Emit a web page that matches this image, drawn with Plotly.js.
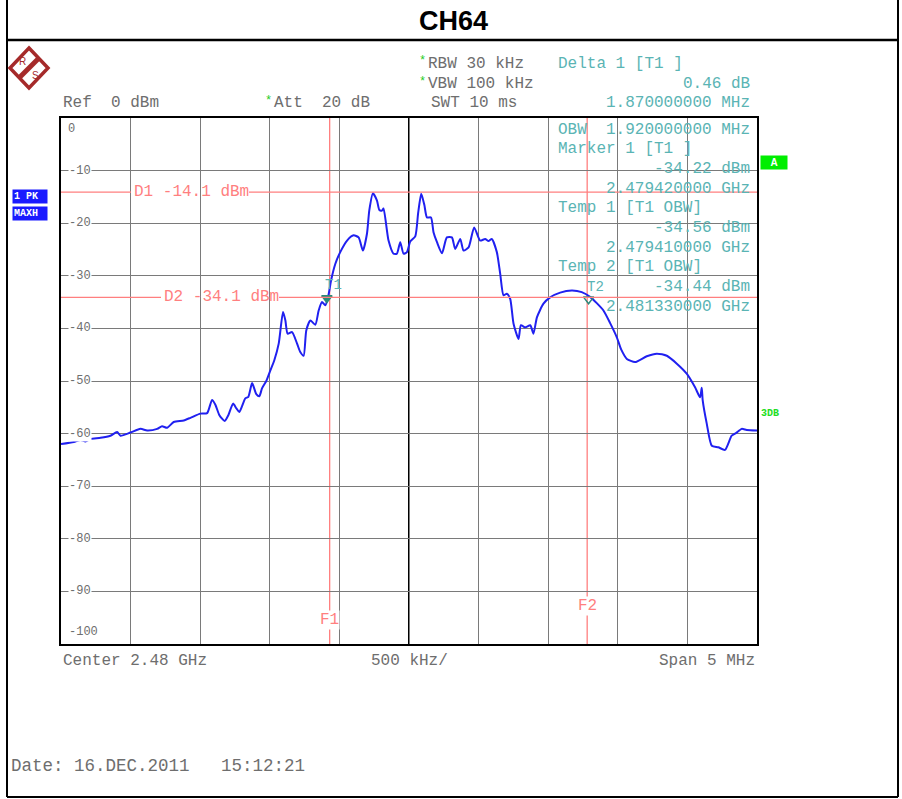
<!DOCTYPE html>
<html>
<head>
<meta charset="utf-8">
<script src="https://cdn.plot.ly/plotly-3.0.1.min.js"></script>
<style>
html,body{margin:0;padding:0;background:#fff;}
#chart{width:902px;height:799px;}
</style>
</head>
<body>
<div id="chart"></div>
<script>
// ---------- data ----------
const freqGHz = [
2.477500,2.477592,2.477640,2.477676,2.477712,2.477784,2.477855,2.477903,2.477927,2.477999,
2.478071,2.478119,2.478191,2.478226,2.478262,2.478310,2.478382,2.478430,2.478501,2.478550,
2.478585,2.478609,2.478638,2.478676,2.478702,2.478736,2.478760,2.478781,2.478824,2.478846,
2.478873,2.478903,2.478925,2.478944,2.478975,2.479004,2.479033,2.479064,2.479095,2.479112,
2.479128,2.479160,2.479196,2.479219,2.479243,2.479262,2.479291,2.479327,2.479351,2.479375,
2.479399,2.479422,2.479440,2.479471,2.479506,2.479555,2.479602,2.479638,2.479669,2.479698,
2.479715,2.479741,2.479770,2.479787,2.479806,2.479817,2.479853,2.479889,2.479913,2.479937,
2.479961,2.479985,2.480009,2.480045,2.480066,2.480088,2.480110,2.480129,2.480158,2.480176,
2.480201,2.480237,2.480272,2.480308,2.480332,2.480368,2.480392,2.480428,2.480468,2.480511,
2.480547,2.480571,2.480595,2.480631,2.480655,2.480679,2.480703,2.480727,2.480751,2.480787,
2.480804,2.480835,2.480871,2.480894,2.480919,2.480966,2.481014,2.481086,2.481170,2.481241,
2.481301,2.481349,2.481397,2.481445,2.481493,2.481524,2.481565,2.481624,2.481708,2.481780,
2.481852,2.481924,2.481995,2.482055,2.482091,2.482103,2.482110,2.482139,2.482175,2.482222,
2.482270,2.482318,2.482349,2.482390,2.482426,2.482500];
const levelDbm = [
-62.0,-61.6,-61.2,-61.5,-61.0,-60.8,-60.4,-59.7,-60.4,-59.8,
-59.1,-59.4,-59.1,-58.6,-58.9,-57.8,-57.5,-57.0,-56.2,-56.1,
-53.6,-54.5,-56.5,-57.6,-56.5,-54.3,-55.2,-55.9,-53.3,-53.0,
-50.4,-52.5,-52.9,-51.4,-50.0,-48.0,-46.0,-42.9,-36.9,-38.5,
-41.0,-40.7,-42.9,-44.5,-45.2,-40.4,-38.5,-39.3,-36.6,-35.0,
-35.6,-33.6,-30.9,-27.7,-25.5,-23.3,-22.3,-22.7,-25.2,-22.0,
-17.5,-14.3,-15.7,-17.5,-17.6,-17.2,-23.3,-25.8,-25.8,-23.6,
-25.8,-25.5,-23.5,-22.5,-18.0,-14.4,-16.5,-18.9,-18.9,-21.7,
-23.6,-25.7,-22.7,-22.7,-24.9,-23.0,-25.2,-24.6,-20.8,-23.3,
-23.0,-23.4,-23.0,-25.5,-29.6,-33.7,-33.4,-34.4,-39.1,-42.0,
-39.4,-39.8,-39.4,-41.0,-37.9,-35.3,-34.1,-33.2,-32.8,-33.1,
-34.0,-35.2,-36.6,-39.0,-41.7,-44.0,-45.8,-46.4,-45.3,-44.8,
-45.2,-46.7,-48.6,-51.2,-53.1,-51.3,-53.7,-58.1,-62.3,-62.6,
-63.1,-60.4,-59.9,-59.1,-59.3,-59.4];

const yTickValues = [0,-10,-20,-30,-40,-50,-60,-70,-80,-90,-100];
const yTickLabels = ["0","-10","-20","-30","-40","-50","-60","-70","-80","-90","-100"];
const displayLines = {D1:-14.1, D2:-34.1};
const freqLines = {F1:2.47943, F2:2.48128};
const markerNames = ["T1","T2"];
const markerFreq = [2.47941, 2.48129];
const markerLevel = [-34.22, -34.44];

const headerLeft = ["Ref  0 dBm", "Att  20 dB"];
const settingsText = ["RBW 30 kHz", "VBW 100 kHz", "SWT 10 ms"];
const deltaText = ["Delta 1 [T1 ]", "0.46 dB", "1.870000000 MHz"];
const markerInfo = [
  ["OBW  1.920000000 MHz","left"],
  ["Marker 1 [T1 ]","left"],
  ["-34.22 dBm","right"],
  ["2.479420000 GHz","right"],
  ["Temp 1 [T1 OBW]","left"],
  ["-34.56 dBm","right"],
  ["2.479410000 GHz","right"],
  ["Temp 2 [T1 OBW]","left"],
  ["-34.44 dBm","right"],
  ["2.481330000 GHz","right"]
];
const footerText = ["Center 2.48 GHz","500 kHz/","Span 5 MHz"];
const dateText = "Date: 16.DEC.2011   15:12:21";

// ---------- layout helpers ----------
const W = 902, H = 799;
const PL = 61, PR = 757, PT = 118, PB = 644;
const px = x => x / W;
const py = y => 1 - y / H;
const X0 = 2.4775, X1 = 2.4825;
const pixX = p => X0 + (p - PL) / (PR - PL) * (X1 - X0);

const MONO = "Liberation Mono, Courier New, monospace";
const GRAY = "#6e6e6e";
const TEAL = "#5ab4b4";
const RED = "#ff7f7f";
const FS = 16;

const annotations = [];
const shapes = [];
function txt(x, y, text, opt) {
  opt = opt || {};
  annotations.push(Object.assign({
    xref:'paper', yref:'paper', x:px(x), y:py(y), text:text, showarrow:false,
    xanchor:'left', yanchor:'middle', yshift:-1.5,
    font:{family:MONO, size:FS, color:GRAY}, borderpad:0
  }, opt));
}
function line(x0,y0,x1,y1,color,width){
  shapes.push({type:'line', xref:'paper', yref:'paper', x0:px(x0), y0:py(y0), x1:px(x1), y1:py(y1),
    line:{color:color, width:width}});
}

// frame
line(7,0,7,797,'#000',2);
line(898,0,898,797,'#000',2);
line(7,797,898,797,'#000',2);
line(7,40,898,40,'#000',2.5);
txt(453, 20, "<b>CH64</b>", {xanchor:'center', yshift:-1, font:{family:"Liberation Sans, Arial, sans-serif", size:27, color:'#000'}});

// logo
shapes.push({type:'path', xref:'paper', yref:'paper',
  path:`M ${px(29)} ${py(48)} L ${px(48)} ${py(68)} L ${px(29)} ${py(88)} L ${px(10)} ${py(68)} Z`,
  line:{color:'#a52a2a', width:3.5}, fillcolor:'rgba(0,0,0,0)'});
shapes.push({type:'line', xref:'paper', yref:'paper', x0:px(19), y0:py(78), x1:px(39), y1:py(58),
  line:{color:'#a52a2a', width:5}});
txt(22, 61, "R", {xanchor:'center', yshift:0, font:{family:"Liberation Sans, Arial", size:10, color:'#a52a2a'}});
txt(35, 75, "S", {xanchor:'center', yshift:0, font:{family:"Liberation Sans, Arial", size:10, color:'#a52a2a'}});

// header text
txt(62, 101, headerLeft[0]);
txt(264, 99, "*", {font:{family:MONO, size:12, color:'#22cc22'}});
txt(273, 101, headerLeft[1]);
txt(418, 60, "*", {font:{family:MONO, size:12, color:'#22cc22'}});
txt(427, 62, settingsText[0]);
txt(418, 80, "*", {font:{family:MONO, size:12, color:'#22cc22'}});
txt(427, 82, settingsText[1]);
txt(430, 101, settingsText[2]);
txt(557, 62, deltaText[0], {font:{family:MONO, size:FS, color:TEAL}});
txt(751, 82, deltaText[1], {xanchor:'right', font:{family:MONO, size:FS, color:TEAL}});
txt(751, 101, deltaText[2], {xanchor:'right', font:{family:MONO, size:FS, color:TEAL}});

// marker info block inside plot
markerInfo.forEach((m, i) => {
  const y = 128 + i * 19.7;
  if (m[1] === 'left') txt(557, y, m[0], {font:{family:MONO, size:FS, color:TEAL}});
  else txt(751, y, m[0], {xanchor:'right', font:{family:MONO, size:FS, color:TEAL}});
});

// y tick labels (inside plot, breaking grid lines)
yTickValues.forEach((v, i) => {
  let yy = PT + (-v) / 100 * (PB - PT);
  let opt = {xref:'paper', yref:'y', y:v, yshift:0, bgcolor: (i===0||i===10)?'rgba(0,0,0,0)':'#ffffff',
    font:{family:MONO, size:12, color:GRAY}};
  if (i === 0) { opt.y = v - 2; }
  if (i === 10) { opt.y = v + 2.3; }
  txt(i===0?67:68, yy, yTickLabels[i], opt);
});

// display lines D1, D2 (broken by their labels)
const dLabelPos = {D1:[131,249], D2:[161,279]};
Object.keys(displayLines).forEach(k => {
  const v = displayLines[k];
  const [a,b] = dLabelPos[k];
  shapes.push({type:'line', xref:'x', yref:'y', x0:X0, x1:pixX(a), y0:v, y1:v, line:{color:RED, width:1.3}});
  shapes.push({type:'line', xref:'x', yref:'y', x0:pixX(b), x1:X1, y0:v, y1:v, line:{color:RED, width:1.3}});
  annotations.push({xref:'x', yref:'y', x:pixX(a+1), y:v, text:k+" "+v.toFixed(1)+" dBm", showarrow:false,
    xanchor:'left', yanchor:'middle', font:{family:MONO, size:FS, color:RED}});
});

// frequency lines F1, F2
const fLabelY = {F1:-95.5, F2:-92.8};
Object.keys(freqLines).forEach(k => {
  const f = freqLines[k];
  shapes.push({type:'line', xref:'x', yref:'y', x0:f, x1:f, y0:0, y1:-100, line:{color:RED, width:1.3}, layer:'below'});
  annotations.push({xref:'x', yref:'y', x:f, y:fLabelY[k], text:k, showarrow:false, bgcolor:'#ffffff', borderpad:0,
    xanchor:'center', yanchor:'middle', font:{family:MONO, size:FS, color:RED}});
});

// center vertical line
shapes.push({type:'line', xref:'x', yref:'y', x0:2.48, x1:2.48, y0:0, y1:-100, line:{color:'#000', width:2}, layer:'below'});

// marker labels
markerNames.forEach((n, i) => {
  annotations.push({xref:'x', yref:'y', x:markerFreq[i], y:markerLevel[i]+2.4, text:n, showarrow:false,
    xanchor:'left', xshift:-4, yanchor:'middle', font:{family:MONO, size:14, color:TEAL}});
});

// side indicators
txt(12, 196, "<b>1 PK</b>", {yshift:0, bgcolor:'#1a1aff', font:{family:MONO, size:10, color:'#fff'}, borderpad:1, width:32, align:'left'});
txt(12, 214, "<b>MAXH</b>", {yshift:0, bgcolor:'#1a1aff', font:{family:MONO, size:10, color:'#fff'}, borderpad:1, width:32, align:'left'});
txt(760, 163, "<b>A</b>", {yshift:0, bgcolor:'#00ee00', font:{family:"Liberation Sans, Arial", size:10, color:'#fff'}, borderpad:1, width:24});
txt(760, 413, "<b>3DB</b>", {yshift:0, font:{family:MONO, size:10, color:'#22dd22'}});

// footer
txt(62, 659, footerText[0]);
txt(409, 659, footerText[1], {xanchor:'center'});
txt(756, 659, footerText[2], {xanchor:'right'});
txt(10, 764, dateText, {font:{family:MONO, size:17.5, color:GRAY}});

const traces = [
  {x:freqGHz, y:levelDbm, type:'scatter', mode:'lines',
   line:{color:'#2020f0', width:2, shape:'spline', smoothing:0.6}, hoverinfo:'skip'},
  {x:markerFreq, y:markerLevel, type:'scatter', mode:'markers',
   marker:{symbol:['triangle-down','triangle-down-open'], size:9, color:'#2a8a7a', line:{color:'#2a8a7a', width:1.5}}, hoverinfo:'skip'}
];

const layout = {
  width:W, height:H, margin:{l:0,r:0,t:0,b:0},
  paper_bgcolor:'#fff', plot_bgcolor:'#fff', showlegend:false,
  xaxis:{domain:[px(PL), px(PR)], range:[X0, X1], dtick:0.0005, tick0:X0, showticklabels:false, ticks:'',
    showgrid:true, gridcolor:'#7a7a7a', gridwidth:1, zeroline:false,
    showline:true, mirror:true, linecolor:'#000', linewidth:2},
  yaxis:{domain:[py(PB), py(PT)], range:[-100, 0], dtick:10, showticklabels:false, ticks:'',
    showgrid:true, gridcolor:'#7a7a7a', gridwidth:1, zeroline:false,
    showline:true, mirror:true, linecolor:'#000', linewidth:2},
  shapes:shapes, annotations:annotations
};
Plotly.newPlot('chart', traces, layout, {displayModeBar:false, staticPlot:true});
</script>
</body>
</html>
